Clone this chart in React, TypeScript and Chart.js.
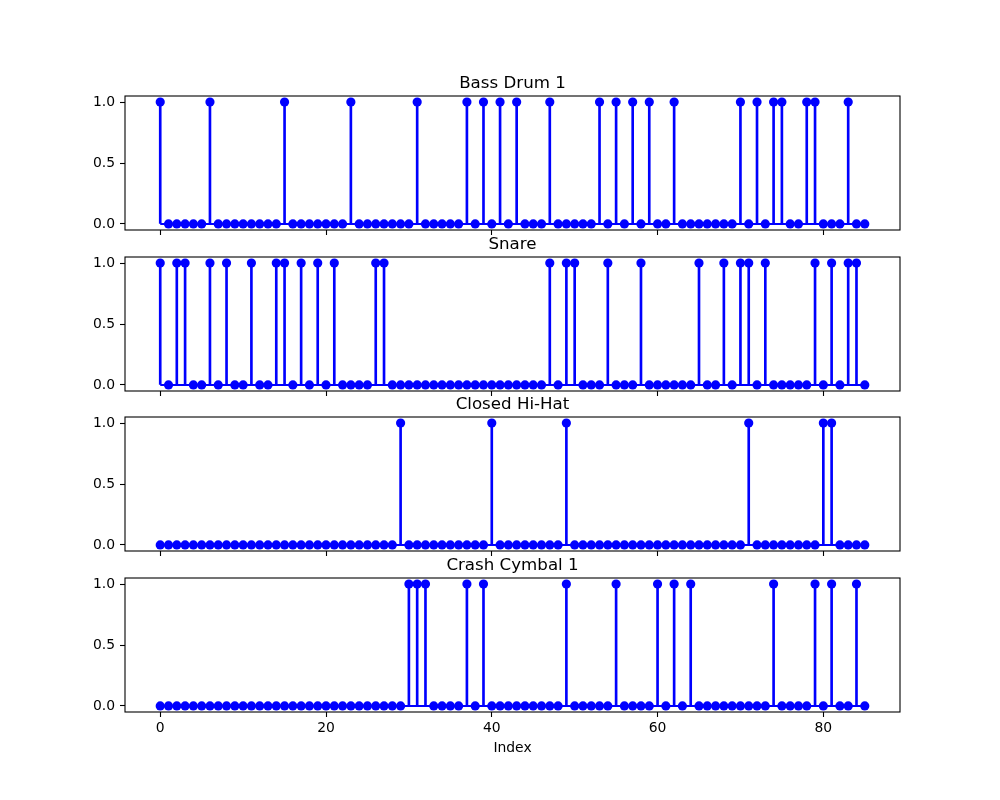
import React, { useEffect, useRef } from 'react';
import { Chart, registerables } from 'chart.js';

Chart.register(...registerables);

// ---- data (0/1 hits per step index 0..85) ----
const bassDrum1 = [
  1, 0, 0, 0, 0, 0, 1, 0, 0, 0,
  0, 0, 0, 0, 0, 1, 0, 0, 0, 0,
  0, 0, 0, 1, 0, 0, 0, 0, 0, 0,
  0, 1, 0, 0, 0, 0, 0, 1, 0, 1,
  0, 1, 0, 1, 0, 0, 0, 1, 0, 0,
  0, 0, 0, 1, 0, 1, 0, 1, 0, 1,
  0, 0, 1, 0, 0, 0, 0, 0, 0, 0,
  1, 0, 1, 0, 1, 1, 0, 0, 1, 1,
  0, 0, 0, 1, 0, 0,
];

const snare = [
  1, 0, 1, 1, 0, 0, 1, 0, 1, 0,
  0, 1, 0, 0, 1, 1, 0, 1, 0, 1,
  0, 1, 0, 0, 0, 0, 1, 1, 0, 0,
  0, 0, 0, 0, 0, 0, 0, 0, 0, 0,
  0, 0, 0, 0, 0, 0, 0, 1, 0, 1,
  1, 0, 0, 0, 1, 0, 0, 0, 1, 0,
  0, 0, 0, 0, 0, 1, 0, 0, 1, 0,
  1, 1, 0, 1, 0, 0, 0, 0, 0, 1,
  0, 1, 0, 1, 1, 0,
];

const closedHiHat = [
  0, 0, 0, 0, 0, 0, 0, 0, 0, 0,
  0, 0, 0, 0, 0, 0, 0, 0, 0, 0,
  0, 0, 0, 0, 0, 0, 0, 0, 0, 1,
  0, 0, 0, 0, 0, 0, 0, 0, 0, 0,
  1, 0, 0, 0, 0, 0, 0, 0, 0, 1,
  0, 0, 0, 0, 0, 0, 0, 0, 0, 0,
  0, 0, 0, 0, 0, 0, 0, 0, 0, 0,
  0, 1, 0, 0, 0, 0, 0, 0, 0, 0,
  1, 1, 0, 0, 0, 0,
];

const crashCymbal1 = [
  0, 0, 0, 0, 0, 0, 0, 0, 0, 0,
  0, 0, 0, 0, 0, 0, 0, 0, 0, 0,
  0, 0, 0, 0, 0, 0, 0, 0, 0, 0,
  1, 1, 1, 0, 0, 0, 0, 1, 0, 1,
  0, 0, 0, 0, 0, 0, 0, 0, 0, 1,
  0, 0, 0, 0, 0, 1, 0, 0, 0, 0,
  1, 0, 1, 0, 1, 0, 0, 0, 0, 0,
  0, 0, 0, 0, 1, 0, 0, 0, 0, 1,
  0, 1, 0, 0, 1, 0,
];

const panelTitles = ['Bass Drum 1', 'Snare', 'Closed Hi-Hat', 'Crash Cymbal 1'];
const panelSeries = [bassDrum1, snare, closedHiHat, crashCymbal1];
const xTickValues = [0, 20, 40, 60, 80];
const yTickValues = [0, 0.5, 1];
const xAxisLabel = 'Index';

// ---- layout / style ----
const FONT = '"DejaVu Sans", "Liberation Sans", sans-serif';
const BLUE = '#0000ff';
const PANEL_TOPS = [96, 257, 417, 578];
const PANEL_H = 134;
const TITLE_BOX = 26;
const X_MIN = -4.25;
const X_MAX = 89.25;
const Y_MIN = -0.05;
const Y_MAX = 1.05;

const framePlugin = {
  id: 'frame',
  afterDatasetsDraw(chart: any) {
    const { ctx, chartArea: a } = chart;
    ctx.save();
    ctx.strokeStyle = '#000';
    ctx.lineWidth = 1.1;
    ctx.strokeRect(a.left, a.top, a.right - a.left, a.bottom - a.top);
    ctx.restore();
  },
};

function StemPanel({ title, values, top, last }: { title: string; values: number[]; top: number; last: boolean }) {
  const ref = useRef<HTMLCanvasElement>(null);
  const xAxisH = last ? 52 : 8;
  const height = TITLE_BOX + PANEL_H + xAxisH;

  useEffect(() => {
    if (!ref.current) return;
    const pts = values.map((v, i) => ({ x: i, y: v }));
    const tickFont = { family: FONT, size: 13.9 };
    const chart = new Chart(ref.current, {
      type: 'bar',
      data: {
        datasets: [
          {
            type: 'scatter',
            data: pts,
            pointRadius: 4.6,
            pointHoverRadius: 4.6,
            pointBackgroundColor: BLUE,
            pointBorderWidth: 0,
            order: 0,
          } as any,
          {
            type: 'bar',
            data: pts,
            backgroundColor: BLUE,
            borderWidth: 0,
            barThickness: 2,
            order: 1,
          } as any,
          {
            type: 'line',
            data: [
              { x: 0, y: 0 },
              { x: values.length - 1, y: 0 },
            ],
            borderColor: BLUE,
            borderWidth: 2,
            pointRadius: 0,
            order: 2,
          } as any,
        ],
      },
      options: {
        responsive: false,
        animation: false,
        events: [],
        layout: { padding: { left: 85, right: 100, top: 0, bottom: 0 } },
        plugins: {
          legend: { display: false },
          tooltip: { enabled: false },
          title: {
            display: true,
            text: title,
            fullSize: false,
            color: '#000',
            font: { family: FONT, size: 16.67, weight: 'normal', lineHeight: 1.2 },
            padding: { top: 3.5, bottom: 2.5 },
          },
        },
        scales: {
          x: {
            type: 'linear',
            min: X_MIN,
            max: X_MAX,
            offset: false,
            afterBuildTicks: (s: any) => {
              s.ticks = xTickValues.map((v) => ({ value: v }));
            },
            afterFit: (s: any) => {
              s.height = xAxisH;
              s.paddingLeft = 0;
              s.paddingRight = 0;
            },
            grid: {
              offset: false,
              drawOnChartArea: false,
              drawTicks: true,
              tickLength: 5,
              tickColor: '#000',
              tickWidth: 1.1,
            },
            border: { display: false },
            ticks: {
              display: last,
              color: '#000',
              font: tickFont,
              padding: 3,
              maxRotation: 0,
              autoSkip: false,
              callback: (v: any) => String(v),
            },
            title: {
              display: last,
              text: xAxisLabel,
              color: '#000',
              font: tickFont,
              padding: { top: 0, bottom: 7 },
            },
          },
          y: {
            type: 'linear',
            min: Y_MIN,
            max: Y_MAX,
            afterBuildTicks: (s: any) => {
              s.ticks = yTickValues.map((v) => ({ value: v }));
            },
            afterFit: (s: any) => {
              s.width = 40;
              s.paddingTop = 0;
              s.paddingBottom = 0;
            },
            grid: {
              drawOnChartArea: false,
              drawTicks: true,
              tickLength: 5,
              tickColor: '#000',
              tickWidth: 1.1,
            },
            border: { display: false },
            ticks: {
              color: '#000',
              font: tickFont,
              padding: 5,
              callback: (v: any) => Number(v).toFixed(1),
            },
          },
        },
      } as any,
      plugins: [framePlugin],
    });
    return () => chart.destroy();
  }, [title, values, last]);

  return (
    <canvas
      ref={ref}
      width={1000}
      height={height}
      style={{ position: 'absolute', left: 0, top: top - TITLE_BOX, width: 1000, height }}
    />
  );
}

export default function App() {
  return (
    <div style={{ position: 'absolute', left: 0, top: 0, width: 1000, height: 800, background: '#fff' }}>
      {panelSeries.map((vals, i) => (
        <StemPanel
          key={panelTitles[i]}
          title={panelTitles[i]}
          values={vals}
          top={PANEL_TOPS[i]}
          last={i === panelSeries.length - 1}
        />
      ))}
    </div>
  );
}
